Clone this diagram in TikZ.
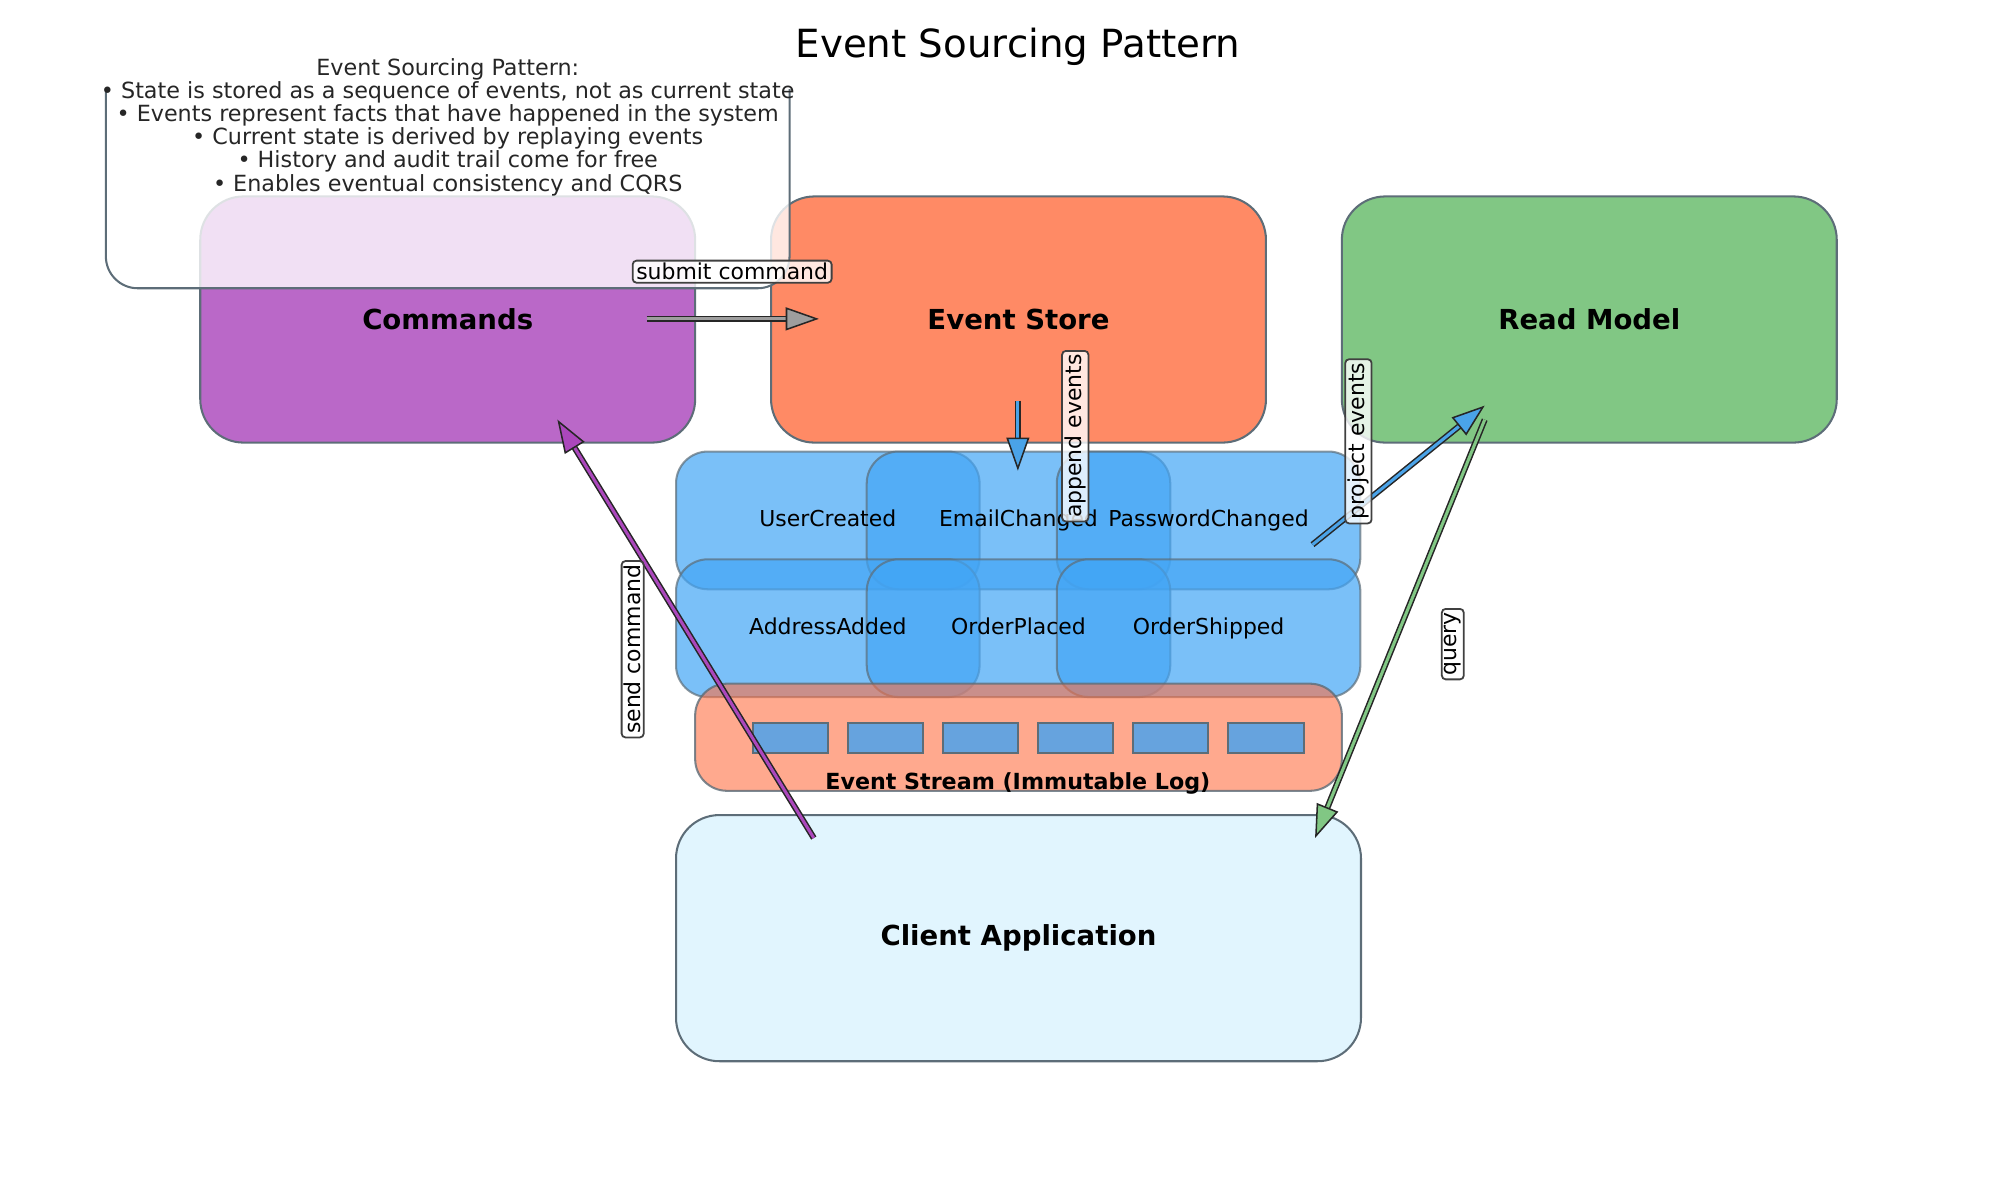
\documentclass[tikz,border=0pt]{standalone}
\usepackage{fontspec}
\setmainfont{DejaVu Sans}
\usetikzlibrary{arrows.meta}

\definecolor{edgegray}{HTML}{5D6D78}
\definecolor{cmdpurple}{HTML}{BA68C8}
\definecolor{storeorange}{HTML}{FF8A65}
\definecolor{readgreen}{HTML}{81C784}
\definecolor{clientblue}{HTML}{E1F5FE}
\definecolor{eventblue}{HTML}{42A5F5}
\definecolor{streamorange}{HTML}{FF7043}
\definecolor{slotblue}{HTML}{66A3DE}
\definecolor{arrowgray}{HTML}{9E9E9E}
\definecolor{arrowblue}{HTML}{4AA3E8}
\definecolor{arrowpurple}{HTML}{AB47BC}

\newcommand{\txtsize}{\fontsize{8.6}{9.1}\selectfont}

\begin{document}
\begin{tikzpicture}[x=0.5pt,y=-0.5pt,
    box/.style={draw=edgegray, line width=0.8pt, rounded corners=17pt,
      minimum width=194pt, minimum height=96.5pt, inner sep=0pt,
      font=\fontsize{10.8}{13}\selectfont\bfseries},
    evbox/.style={draw=edgegray, draw opacity=0.7, fill=eventblue,
      fill opacity=0.7, line width=0.8pt, rounded corners=12.5pt,
      minimum width=119pt, minimum height=54pt, inner sep=0pt},
    slot/.style={draw=edgegray, fill=slotblue, line width=0.8pt,
      minimum width=29.5pt, minimum height=11.5pt, inner sep=0pt},
    lab/.style={draw=black!75, line width=0.7pt, fill=white, fill opacity=0.8,
      text opacity=1, rounded corners=1.5pt, inner xsep=1.4pt, inner ysep=1pt,
      font=\txtsize},
    fatarrow/.style={draw=black!85, line width=0.6pt, double=#1,
      double distance=1.2pt,
      -{Triangle[length=13pt,width=9pt,fill=#1,line width=0.6pt]}}]
  \useasboundingbox (0,0) rectangle (1568,941);
  % Main components
  \node[box, fill=cmdpurple] (cmd) at (351,250.5) {Commands};
  \node[box, fill=storeorange] (store) at (798.5,250.5) {Event Store};
  \node[box, fill=readgreen] (readmodel) at (1246,250.5) {Read Model};
  \node[box, fill=clientblue, minimum width=268.5pt] (client) at (798.5,735.5) {Client Application};
  % Events
  \foreach \name/\x/\y in {e1/649/408, e2/798.5/408, e3/947.5/408,
                           e4/649/492.5, e5/798.5/492.5, e6/947.5/492.5}
    \node[evbox] (\name) at (\x,\y) {};
  \foreach \name/\lbl in {e1/UserCreated, e2/EmailChanged, e3/PasswordChanged,
                          e4/AddressAdded, e5/OrderPlaced, e6/OrderShipped}
    \node[font=\txtsize, text height=6.3pt, text depth=1.6pt] at (\name.center) {\lbl};
  % Event stream
  \node[draw=edgegray, draw opacity=0.8, fill=streamorange, fill opacity=0.6,
    line width=0.8pt, rounded corners=12.5pt, minimum width=253.5pt,
    minimum height=42pt] (stream) at (798.5,578) {};
  \foreach \i in {0,...,5}
    \node[slot] (slot\i) at ({619.5+74.6*\i},578.5) {};
  \node[font=\fontsize{8.7}{10}\selectfont\bfseries] (streamlbl) at (798,614) {Event Stream (Immutable Log)};
  % Info box
  \begin{scope}
    \clip (0,70) rectangle (1568,941);
    \node[draw=edgegray, fill=white, fill opacity=0.8, line width=0.8pt,
      rounded corners=12.5pt, minimum width=268pt, minimum height=103pt] (info) at (351,123) {};
  \end{scope}
  \node[align=center, text=black!85, font=\fontsize{8.73}{9.1}\selectfont] (infotxt) at (351,99.5)
    {Event Sourcing Pattern:\\
     • State is stored as a sequence of events, not as current state\\
     • Events represent facts that have happened in the system\\
     • Current state is derived by replaying events\\
     • History and audit trail come for free\\
     • Enables eventual consistency and CQRS};
  \node[font=\fontsize{15.2}{18}\selectfont] (title) at (798,37) {Event Sourcing Pattern};
  % Arrows
  \coordinate (submitA) at (507,250);   \coordinate (submitB) at (642,250);
  \coordinate (appendA) at (798,314);   \coordinate (appendB) at (798,369);
  \coordinate (projectA) at (1029,427); \coordinate (projectB) at (1164,318);
  \coordinate (queryA) at (1164,329);   \coordinate (queryB) at (1031,657);
  \coordinate (sendA) at (638,657);     \coordinate (sendB) at (437,329);
  \draw[fatarrow=arrowgray] (submitA) -- (submitB);
  \draw[fatarrow=arrowblue] (appendA) -- (appendB);
  \draw[fatarrow=arrowblue] (projectA) -- (projectB);
  \draw[fatarrow=readgreen] (queryA) -- (queryB);
  \draw[fatarrow=arrowpurple] (sendA) -- (sendB);
  % Labels
  \node[lab] (lsubmit) at (574,213) {submit command};
  \node[lab, rotate=90] (lappend) at (843,342) {append events};
  \node[lab, rotate=90] (lproject) at (1065,346) {project events};
  \node[lab, rotate=90] (lquery) at (1139,505) {query};
  \node[lab, rotate=90] (lsend) at (496,509) {send command};
\end{tikzpicture}
\end{document}
